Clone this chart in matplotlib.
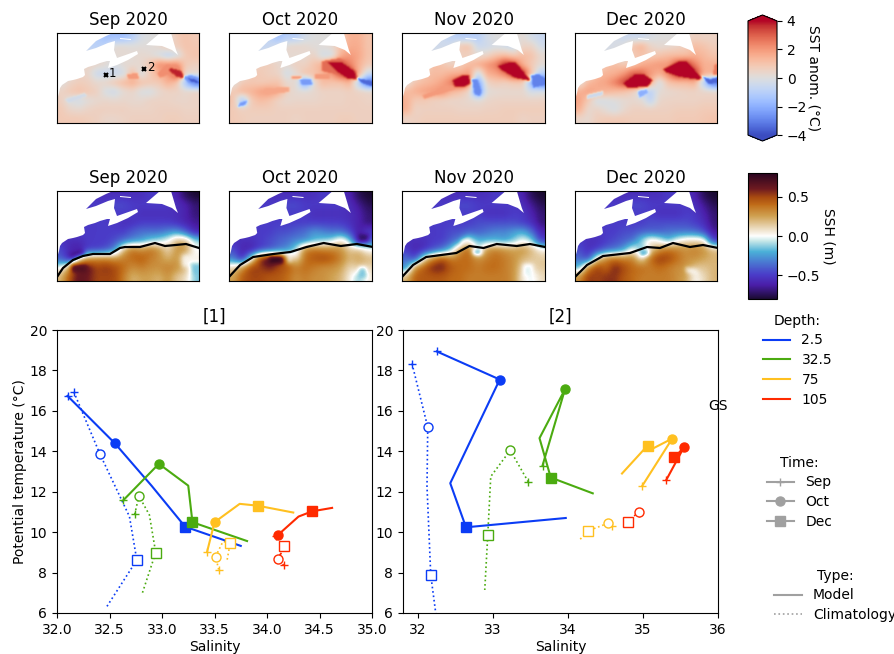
import numpy as np
import matplotlib
matplotlib.use('Agg')
import matplotlib.pyplot as plt
from matplotlib.colors import LinearSegmentedColormap, Normalize
from matplotlib.cm import ScalarMappable
from matplotlib.lines import Line2D
from matplotlib.patches import Polygon
from matplotlib.path import Path

W, H = 895, 654
months = ['Sep 2020', 'Oct 2020', 'Nov 2020', 'Dec 2020']

sst_sep = [
 [0,0,0,0,-1,-1.5,-1.5,-1.5,-1,-.2,0,0,0,.8,1,.8],
 [0,0,0,-1,-1,-.8,.2,.2,.1,.1,.1,.3,.8,.6,1,.9],
 [0,0,0,0,0,0,.2,.2,.2,.3,.2,-.2,-.8,-.3,.8,1],
 [0,0,0,.5,.4,.2,-.2,.2,.2,.3,1,2.2,2.2,2.2,.8,.6],
 [0,0,.5,.4,-.5,-.6,-.5,-.3,1.2,-.2,.8,1.5,2,3.8,.3,.3],
 [0,.5,.7,.6,.3,.4,.8,1.2,1.5,1,.8,.8,1.5,1,-1.5,-3.5],
 [.5,.8,1,.8,.6,-.2,-.4,.2,.4,-.1,-.2,.3,.5,.5,.3,.5],
 [.6,-.1,-.3,.1,.3,.4,.3,.4,.3,.3,.5,.5,.5,.4,.4,.5],
 [.8,.4,.3,.5,.6,.6,.6,.6,.5,.5,.5,.6,.6,.6,.5,.5],
 [.8,.8,.8,.7,.6,.4,.4,.5,.6,.6,.6,.6,.7,.7,.6,.6]]
sst_oct = [
 [0,0,0,0,-.8,-1.5,-1,-1,-.3,0,0,0,.6,1.5,1.5,1],
 [0,0,0,-.8,-.6,-.3,.3,.4,.3,.1,.1,.3,1,1.6,1.6,1],
 [0,0,0,0,0,0,.3,.2,.3,.5,-.3,-.3,1.5,2,1.7,1],
 [0,0,0,.7,.7,.4,.2,.6,.5,1,1.5,3,3.5,2.5,1.5,.8],
 [0,0,.8,.8,.6,.5,-.3,.2,1,1,1.5,2,3.5,3.8,1.5,-.5],
 [0,.8,.9,.8,.9,1,.3,.3,-2.5,.2,1.2,1,1,1.5,-1,-3.5],
 [.8,1.3,1.4,1.8,2,1.6,.5,.2,.2,.3,.5,.5,.5,.6,.5,.4],
 [1,-1.5,.8,1.2,1,.5,.3,.4,.4,.4,.5,.5,.5,.6,.6,.5],
 [.8,.6,.7,.7,.7,.6,.6,.6,.6,.6,.6,.6,.6,.6,.6,.6],
 [.8,.7,.6,.6,.6,.6,.6,.5,.6,.6,.6,.6,.7,.7,.6,.6]]
sst_nov = [
 [0,0,0,0,-.5,-.8,-1,-1,-1,-.3,0,0,0,.2,-.3,-.6],
 [0,0,0,-.5,-.4,-.3,.9,1,-.5,-.4,-.2,-.4,-.6,.5,.5,-.3],
 [0,0,0,0,0,0,.6,.6,.3,.5,1,1.2,.8,1.2,1,.3],
 [0,0,0,1.2,1,.6,.8,1.2,1.6,2,2.5,4,3.5,1.5,.8,.2],
 [0,0,1,1.2,1.2,1.5,1.5,2,-.5,1.5,1.8,2.5,4,4,1,-1],
 [0,1,1.2,1.4,1.8,2.5,4,2.5,-2.5,.5,.8,.6,.8,.8,-2,-3.5],
 [1.2,1.5,1.8,2,2.2,1.4,1,.4,-3,.1,.2,.3,.3,.3,-.3,-.1],
 [1.5,.8,.8,.6,.5,.4,.4,.3,.2,.4,.5,.5,.5,.5,.5,.5],
 [1.5,.5,.6,.6,.6,.6,.5,.5,.5,.6,.6,.7,.7,.7,.7,.7],
 [.5,.6,.7,.7,.7,.7,.7,.7,.7,.7,.7,.7,.7,.5,.6,.6]]
sst_dec = [
 [0,0,0,0,-.2,-.5,-.5,-.5,-.2,0,0,0,.3,.6,.5,.5],
 [0,0,0,-.3,-.2,0,1,1.4,.5,.2,.3,.5,.7,1.2,1,.7],
 [0,0,0,0,0,0,.8,1,.8,1,1.2,1.2,1.2,1.5,1.3,1],
 [0,0,0,1,1.2,.8,1,1.5,1.8,2,2,3.5,4,2.5,1.5,1.5],
 [0,0,1.2,1.4,1.5,2,3,3,2,1.5,2.5,4,4,4,1.5,1.5],
 [0,1.3,1.6,1.8,2.5,3.5,4,4,1.5,-.3,1,1.2,1.2,1.5,-1,-3.5],
 [1.5,1.8,1.6,1.4,1.2,1,.6,-.5,-1,.2,.3,.4,.5,.5,.4,.4],
 [1.8,.8,-.3,-.2,0,.2,.3,.2,-.8,.4,.5,.5,.5,.5,.6,.6],
 [1.5,.3,.5,.1,-.2,.3,.6,.6,.6,.6,.6,.7,.7,.7,.8,.8],
 [.4,.3,.7,.8,.8,.8,.7,.7,.7,.7,.7,.8,.8,.8,.9,1]]

ssh_sep = [
 [-.5,-.5,-.5,-.5,-.55,-.55,-.55,-.55,-.55,-.55,-.5,-.5,-.55,-.6,-.75,-.8],
 [-.5,-.5,-.5,-.5,-.5,-.5,-.45,-.45,-.5,-.5,-.5,-.5,-.5,-.55,-.6,-.7],
 [-.5,-.5,-.5,-.5,-.5,-.5,-.5,-.5,-.5,-.55,-.55,-.55,-.55,-.55,-.6,-.7],
 [-.5,-.5,-.5,-.5,-.5,-.5,-.5,-.55,-.55,-.5,-.5,-.5,-.5,-.55,-.6,-.65],
 [-.5,-.5,-.5,-.5,-.5,-.5,-.5,-.5,-.4,-.35,-.35,-.35,-.3,-.25,-.4,-.6],
 [-.55,-.55,-.55,-.5,-.5,-.5,-.45,-.35,-.3,-.25,-.15,-.1,0,.2,.2,-.1],
 [-.45,-.6,-.65,-.5,-.5,-.45,-.3,.2,.4,.3,.4,.3,.1,.3,.3,0],
 [-.4,-.65,.1,.3,.35,.35,.3,.35,.4,.45,.35,.3,.2,.3,0,.02],
 [0,.3,.6,.65,.5,.55,.5,.4,.3,.35,.3,.3,.35,.3,.2,-.1],
 [.2,.5,.65,.6,.5,.5,.5,.35,.2,.25,.25,.2,.3,.15,.1,-.15]]
ssh_oct = [
 [-.5,-.5,-.5,-.5,-.55,-.55,-.55,-.55,-.55,-.55,-.5,-.5,-.55,-.6,-.75,-.8],
 [-.5,-.5,-.5,-.5,-.5,-.5,-.45,-.45,-.5,-.5,-.5,-.5,-.5,-.55,-.65,-.75],
 [-.5,-.5,-.5,-.5,-.5,-.5,-.5,-.5,-.5,-.55,-.55,-.55,-.55,-.55,-.6,-.7],
 [-.5,-.5,-.5,-.5,-.5,-.5,-.5,-.5,-.5,-.5,-.5,-.5,-.5,-.55,-.6,-.7],
 [-.5,-.5,-.5,-.5,-.5,-.45,-.45,-.4,-.35,-.25,-.3,-.35,-.35,-.45,-.65,-.5],
 [-.55,-.55,-.55,-.5,-.45,-.4,-.35,-.3,-.3,-.2,-.15,-.1,.1,-.1,-.7,-.4],
 [-.45,-.6,-.6,-.5,-.45,-.35,-.3,-.1,.35,.4,.35,.35,.3,.15,.2,0],
 [-.3,-.6,0,.6,.75,.6,.35,.05,.4,.45,.5,.45,.35,.2,.25,.2],
 [.1,.3,.55,.5,.6,.5,.45,.35,.4,.35,.3,.3,.25,.1,.15,.1],
 [.25,.45,.5,.5,.45,.45,.4,.3,.35,.3,.3,.25,.2,.05,-.15,.05]]
ssh_nov = [
 [-.5,-.5,-.5,-.5,-.55,-.55,-.55,-.55,-.55,-.55,-.5,-.5,-.55,-.6,-.75,-.8],
 [-.5,-.5,-.5,-.5,-.5,-.5,-.45,-.45,-.5,-.5,-.5,-.5,-.5,-.55,-.65,-.75],
 [-.5,-.5,-.5,-.5,-.5,-.5,-.5,-.5,-.5,-.55,-.55,-.55,-.5,-.5,-.6,-.7],
 [-.5,-.5,-.5,-.5,-.5,-.5,-.5,-.5,-.45,-.45,-.45,-.45,-.45,-.5,-.55,-.7],
 [-.5,-.5,-.5,-.5,-.5,-.45,-.45,-.4,-.4,-.35,-.3,-.3,-.25,-.2,-.35,-.6],
 [-.55,-.55,-.55,-.5,-.5,-.4,-.3,0,-.2,-.2,-.2,-.25,-.15,0,-.1,-.5],
 [-.5,-.6,-.55,-.45,-.35,-.15,.3,.45,-.1,.3,.35,.3,.25,.3,.2,.05],
 [-.35,-.5,.1,.35,.5,.35,.4,.4,.3,.35,.4,.35,.3,.2,.15,.15],
 [-.3,.35,.45,.6,.6,.45,.4,.4,.35,.4,.4,.35,.3,.1,.1,.15],
 [.2,.45,.45,.45,.45,.4,.4,.35,.35,.35,.35,.35,.3,.05,-.05,.1]]
ssh_dec = [
 [-.5,-.5,-.5,-.5,-.55,-.55,-.55,-.55,-.55,-.55,-.5,-.5,-.55,-.6,-.75,-.8],
 [-.5,-.5,-.5,-.5,-.5,-.5,-.45,-.45,-.5,-.5,-.5,-.5,-.5,-.55,-.65,-.75],
 [-.5,-.5,-.5,-.5,-.5,-.5,-.5,-.5,-.5,-.55,-.55,-.55,-.5,-.5,-.6,-.7],
 [-.5,-.5,-.5,-.5,-.5,-.5,-.5,-.5,-.45,-.45,-.45,-.45,-.45,-.5,-.55,-.7],
 [-.5,-.5,-.5,-.5,-.5,-.45,-.45,-.4,-.4,-.4,-.35,-.35,-.35,-.35,-.45,-.65],
 [-.5,-.55,-.55,-.5,-.45,-.4,-.35,-.1,.1,0,-.2,0,.1,.1,.1,-.5],
 [-.45,-.55,-.5,-.4,-.35,-.25,.05,-.2,.1,.3,.4,.35,.3,.35,.3,.2],
 [-.35,-.5,.1,.35,.4,.35,.35,.05,.4,.55,.5,.4,.3,.3,.25,.2],
 [-.2,.35,.55,.4,.6,.5,.4,.4,.35,.4,.35,.3,.3,.15,.15,.2],
 [.3,.55,.5,.55,.55,.45,.4,.35,.35,.35,.35,.3,.25,0,.1,.2]]

sst_fields = [sst_sep, sst_oct, sst_nov, sst_dec]
ssh_fields = [ssh_sep, ssh_oct, ssh_nov, ssh_dec]

# sharp features: (value, xs, ys)
sst_feat_sep = [(2.2,[100,110,120,127,125,110,103],[40,31,33,42,46,42,45]),
                (3.8,[114,125,127,120,111],[35,38,45,44,37]),
                (2.0,[70,81,82,71],[41,40,46,46]),
                (-2.5,[127,135,142,142,132,127],[43,42,45,52,50,46]),
                (-3.8,[131,140,142,134],[45,47,50,49]),
                (-.3,[8,28,30,12],[66,60,63,70])]
sst_feat_oct = [(2.8,[92,110,114,127,128,118,105,92],[28,25,27,38,47,46,41,38]),
                (4,[98,112,125,127,118,106],[29,29,38,46,46,38]),
                (-2.5,[70,82,83,72],[46,46,52,52]),
                (-3.5,[127,143,143,132],[45,48,54,50]),
                (1.7,[35,60,60,36],[55,54,59,62]),
                (-2.5,[10,18,17,9],[70,67,72,74]),
                (2,[62,72,72,62],[43,43,46,46]),
                (2,[85,100,100,85],[41,41,46,46])]
sst_feat_nov = [(2,[20,50,60,48,22],[62,53,54,58,66]),
                (4,[50,60,67,68,62,52],[47,42,42,51,54,54]),
                (4,[95,106,113,127,127,112,100],[33,29,29,46,48,45,38]),
                (-2.8,[69,75,79,78,72,70],[46,46,58,63,62,52]),
                (-3,[128,136,142,142,130],[42,41,45,52,55])]
sst_feat_dec = [(4,[48,60,69,78,73,52],[50,41,41,47,54,55]),
                (4,[88,104,112,127,124,105,90],[36,28,28,45,47,44,39]),
                (-3.5,[127,135,143,143,133],[43,46,44,50,51]),
                (-2,[63,72,73,64],[58,56,60,65]),
                (2.5,[139,143,143,138],[32,30,42,42]),
                (-.5,[12,28,28,12],[62,58,62,66])]
ssh_feat_sep = [(-.68,[12,25,28,14],[62,58,63,68]),
                (.68,[14,30,30,14],[73,73,81,81]),
                (.03,[125,142,142,125],[64,64,76,76]),
                (-.15,[133,142,142,135],[72,72,84,84])]
ssh_feat_oct = [(.78,[40,54,54,40],[65,65,72,72]),
                (.03,[58,62,62,58],[64,64,72,72]),
                (-.15,[129,136,137,128],[76,76,87,87]),
                (-.72,[128,140,138,128],[43,43,51,51])]
ssh_feat_nov = [(.03,[58,67,68,58],[49,46,52,54]),
                (-.2,[70,79,79,71],[59,59,64,64]),
                (-.03,[120,130,130,120],[73,73,85,85])]
ssh_feat_dec = [(-.25,[66,74,74,65],[60,60,64,65]),
                (.02,[110,122,124,112],[76,78,84,82])]
sst_feats = [sst_feat_sep, sst_feat_oct, sst_feat_nov, sst_feat_dec]
ssh_feats = [ssh_feat_sep, ssh_feat_oct, ssh_feat_nov, ssh_feat_dec]

# map coordinates: 0..142 east, 0..90 south
land_main_x = [0,56,49,39,29,39,51,58,57,60,80,81,71,60,51,53,50,43,38,31,27,28,26,20,16,11,8,5,3,2,0]
land_main_y = [0,0,3,8,18,15,10,8,17,25,18,21,27,32,35,28,28,30,32,34,36,42,44,46,47,48,50,52,55,60,67]
land_nfld_x = [89,103,114,119,121,115,105]
land_nfld_y = [12,0,0,17,22,17,13]
land_anti_x = [63,74,74,63]
land_anti_y = [5,6,7,6]

front_x = [[0,6,16,26,36,53,63,68,83,98,108,129,142],
           [0,11,24,44,61,77,94,111,127,143],
           [0,11,24,54,67,81,94,114,127,142],
           [0,12,28,55,72,85,98,115,128,143]]
front_y = [[86,77,69,65,63,63,57,56,56,52,55,53,57],
           [86,74,66,63,61,56,52,55,53,56],
           [86,74,66,62,55,57,53,55,53,56],
           [86,74,65,62,56,57,52,56,54,57]]

site_x = [49, 87]
site_y = [42, 36]
site_names = ['1', '2']

depths = ['2.5', '32.5', '75', '105']
depth_colors = ['#0b3cf5', '#4bab10', '#ffc020', '#ff2a00']

# [1] Sep, Oct, Nov, Dec, Jan
s1_model = [[32.10,32.55,32.90,33.22,33.75],[32.63,32.97,33.25,33.29,33.81],
            [33.43,33.50,33.74,33.91,34.25],[34.09,34.10,34.30,34.43,34.62]]
t1_model = [[16.74,14.40,12.30,10.27,9.32],[11.57,13.38,12.30,10.49,9.56],
            [9.04,10.49,11.40,11.31,10.97],[9.83,9.84,10.77,11.03,11.20]]
s1_clim = [[32.16,32.41,32.69,32.76,32.47],[32.74,32.78,32.88,32.94,32.81],
           [33.54,33.51,33.58,33.65,33.62],[34.16,34.10,34.15,34.16,34.13]]
t1_clim = [[16.94,13.85,10.77,8.62,6.28],[10.88,11.79,10.85,8.99,6.94],
           [8.15,8.79,9.53,9.48,8.62],[8.36,8.66,9.12,9.32,8.9]]
# [2]
s2_model = [[32.25,33.09,32.43,32.64,33.97],[33.66,33.96,33.62,33.77,34.33],
            [34.99,35.39,35.07,35.06,34.72],[35.31,35.55,35.45,35.41,35.43]]
t2_model = [[18.94,17.55,12.42,10.24,10.70],[13.29,17.07,14.65,12.70,11.92],
            [12.29,14.63,14.02,14.28,12.90],[12.58,14.23,13.80,13.72,13.85]]
s2_clim = [[31.92,32.13,32.12,32.17,32.24],[33.47,33.23,32.97,32.93,32.89],
           [34.58,34.53,34.40,34.27,34.15],[34.94,34.94,34.85,34.80,34.80]]
t2_clim = [[18.34,15.19,12.25,7.88,5.9],[12.49,14.05,12.75,9.84,7.14],
           [10.32,10.44,10.25,10.07,9.6],[10.96,10.98,10.7,10.50,10.5]]

ssh_cmap = LinearSegmentedColormap.from_list('ssh', [
    (0.0, '#1a0a30'), (0.11, '#4a1ea8'), (0.19, '#4a3cc8'), (0.28, '#4a70d0'), (0.375, '#4ab0d8'),
    (0.46, '#c8e8e8'), (0.5, '#ffffff'), (0.56, '#ecdcc0'), (0.66, '#cfa050'),
    (0.75, '#c06c18'), (0.81, '#a84a10'), (0.875, '#6e1a20'), (1.0, '#280420')])

plt.rcParams['font.family'] = 'DejaVu Sans'
fig = plt.figure(figsize=(W / 100, H / 100), dpi=100)


def box(x0, y0, x1, y1):
    return [x0 / W, 1 - y1 / H, (x1 - x0) / W, (y1 - y0) / H]


def blur(a, sigma):
    r = int(3 * sigma) + 1
    k = np.exp(-0.5 * (np.arange(-r, r + 1) / sigma) ** 2)
    k /= k.sum()
    a = np.pad(a, r, mode='edge')
    a = np.apply_along_axis(lambda v: np.convolve(v, k, mode='same'), 0, a)
    a = np.apply_along_axis(lambda v: np.convolve(v, k, mode='same'), 1, a)
    return a[r:-r, r:-r]


def build_field(coarse, feats, s_coarse, s_feat):
    coarse = np.array(coarse, float)
    xc = (np.arange(coarse.shape[1]) + 0.5) * 142 / coarse.shape[1]
    yc = (np.arange(coarse.shape[0]) + 0.5) * 90 / coarse.shape[0]
    xf = np.arange(142) + 0.5
    yf = np.arange(90) + 0.5
    f = np.array([np.interp(xf, xc, row) for row in coarse])
    f = np.array([np.interp(yf, yc, col) for col in f.T]).T
    f = blur(f, s_coarse)
    xx, yy = np.meshgrid(xf, yf)
    pts = np.column_stack([xx.ravel(), yy.ravel()])
    for val, xs, ys in feats:
        mask = Path(np.column_stack([xs, ys])).contains_points(pts).reshape(f.shape)
        f[mask] = val
    return blur(f, s_feat)


panel_left = [57, 229, 402, 575]
panel_right = [199, 372, 545, 717]


def draw_map(ax, field, feats, cmap, vmin, vmax, s_coarse, s_feat):
    ax.imshow(build_field(field, feats, s_coarse, s_feat), extent=(0, 142, 90, 0), cmap=cmap,
              vmin=vmin, vmax=vmax, aspect='auto', interpolation='bilinear')
    for lx, ly in [(land_main_x, land_main_y), (land_nfld_x, land_nfld_y), (land_anti_x, land_anti_y)]:
        ax.add_patch(Polygon(np.column_stack([lx, ly]), closed=True, fc='white', ec='none', zorder=2))
    ax.set_xlim(0, 142)
    ax.set_ylim(90, 0)
    ax.set_xticks([])
    ax.set_yticks([])


for i in range(4):
    ax = fig.add_axes(box(panel_left[i], 33, panel_right[i], 123))
    draw_map(ax, sst_fields[i], sst_feats[i], 'coolwarm', -4, 4, 2.0, 0.9)
    ax.set_title(months[i], fontsize=12, pad=6)
    if i == 0:
        ax.plot(site_x, site_y, ls='none', marker='x', color='k', ms=3.5, mew=1.5, zorder=4)
        for x, y, n in zip(site_x, site_y, site_names):
            ax.text(x + 3, y - 1.5, n, fontsize=8.5, va='center', zorder=4)
    ax = fig.add_axes(box(panel_left[i], 191, panel_right[i], 281))
    draw_map(ax, ssh_fields[i], ssh_feats[i], ssh_cmap, -0.8, 0.8, 2.5, 2.2)
    ax.plot(front_x[i], front_y[i], color='k', lw=1.6, zorder=3)
    ax.set_title(months[i], fontsize=12, pad=6)

cax = fig.add_axes(box(748, 15, 777, 141))
cb = fig.colorbar(ScalarMappable(Normalize(-4, 4), 'coolwarm'), cax=cax, extend='both',
                  extendfrac=0.052, ticks=[-4, -2, 0, 2, 4])
cb.set_label('SST anom. (°C)', rotation=270, labelpad=10, fontsize=10)
cax = fig.add_axes(box(748, 173, 777, 299))
cb = fig.colorbar(ScalarMappable(Normalize(-0.8, 0.8), ssh_cmap), cax=cax, ticks=[-0.5, 0, 0.5])
cb.set_label('SSH (m)', rotation=270, labelpad=11, fontsize=10)


def draw_ts(ax, sm, tm, sc, tc):
    for k, col in enumerate(depth_colors):
        ax.plot(sc[k], tc[k], ls=':', color=col, lw=1.2, zorder=2)
        ax.plot(sm[k], tm[k], ls='-', color=col, lw=1.5, zorder=3)
        for idx, mk in [(0, '+'), (1, 'o'), (3, 's')]:
            ax.plot(sc[k][idx], tc[k][idx], marker=mk, ms=6.5 if mk != '+' else 6,
                    mfc='white' if mk != '+' else col, mec=col, mew=1, ls='none', zorder=4)
            ax.plot(sm[k][idx], tm[k][idx], marker=mk, ms=6 if mk == '+' else 6.5, color=col,
                    mew=1, ls='none', zorder=5)


ax1 = fig.add_axes(box(57, 330, 372, 613))
draw_ts(ax1, s1_model, t1_model, s1_clim, t1_clim)
ax1.set_xlim(32, 35)
ax1.set_ylim(6, 20)
ax1.set_xticks(np.arange(32, 35.1, 0.5))
ax1.set_yticks(np.arange(6, 21, 2))
ax1.set_xlabel('Salinity', labelpad=2.5)
ax1.set_ylabel('Potential temperature (°C)', labelpad=2)
ax1.set_title('[1]', fontsize=12, pad=6)

ax2 = fig.add_axes(box(403, 330, 718, 613))
draw_ts(ax2, s2_model, t2_model, s2_clim, t2_clim)
ax2.set_xlim(31.8, 36)
ax2.set_ylim(6, 20)
ax2.set_xticks(np.arange(32, 37, 1))
ax2.set_yticks(np.arange(6, 21, 2))
ax2.set_xlabel('Salinity', labelpad=2.5)
ax2.set_title('[2]', fontsize=12, pad=6)

fig.text(718 / W, 1 - 406 / H, 'GS', ha='center', va='center', fontsize=10)

h1 = [Line2D([], [], color=c, lw=1.5, label=d) for c, d in zip(depth_colors, depths)]
h2 = [Line2D([], [], color='#a0a0a0', lw=1.5, marker=m, ms=ms, label=l)
      for m, ms, l in [('+', 6, 'Sep'), ('o', 6.5, 'Oct'), ('s', 6.5, 'Dec')]]
h3 = [Line2D([], [], color='#a0a0a0', lw=1.5, ls='-', label='Model'),
      Line2D([], [], color='#a0a0a0', lw=1.2, ls=':', label='Climatology')]
for handles, title, x, y in [(h1, 'Depth:', 757, 308), (h2, 'Time:', 761, 450), (h3, 'Type:', 768.5, 563)]:
    leg = fig.legend(handles=handles, title=title, frameon=False, loc='upper left',
                     bbox_to_anchor=(x / W, 1 - y / H), fontsize=10, title_fontsize=10,
                     borderaxespad=0, borderpad=0.4, labelspacing=0.42)

fig.savefig('out.png', dpi=100)
